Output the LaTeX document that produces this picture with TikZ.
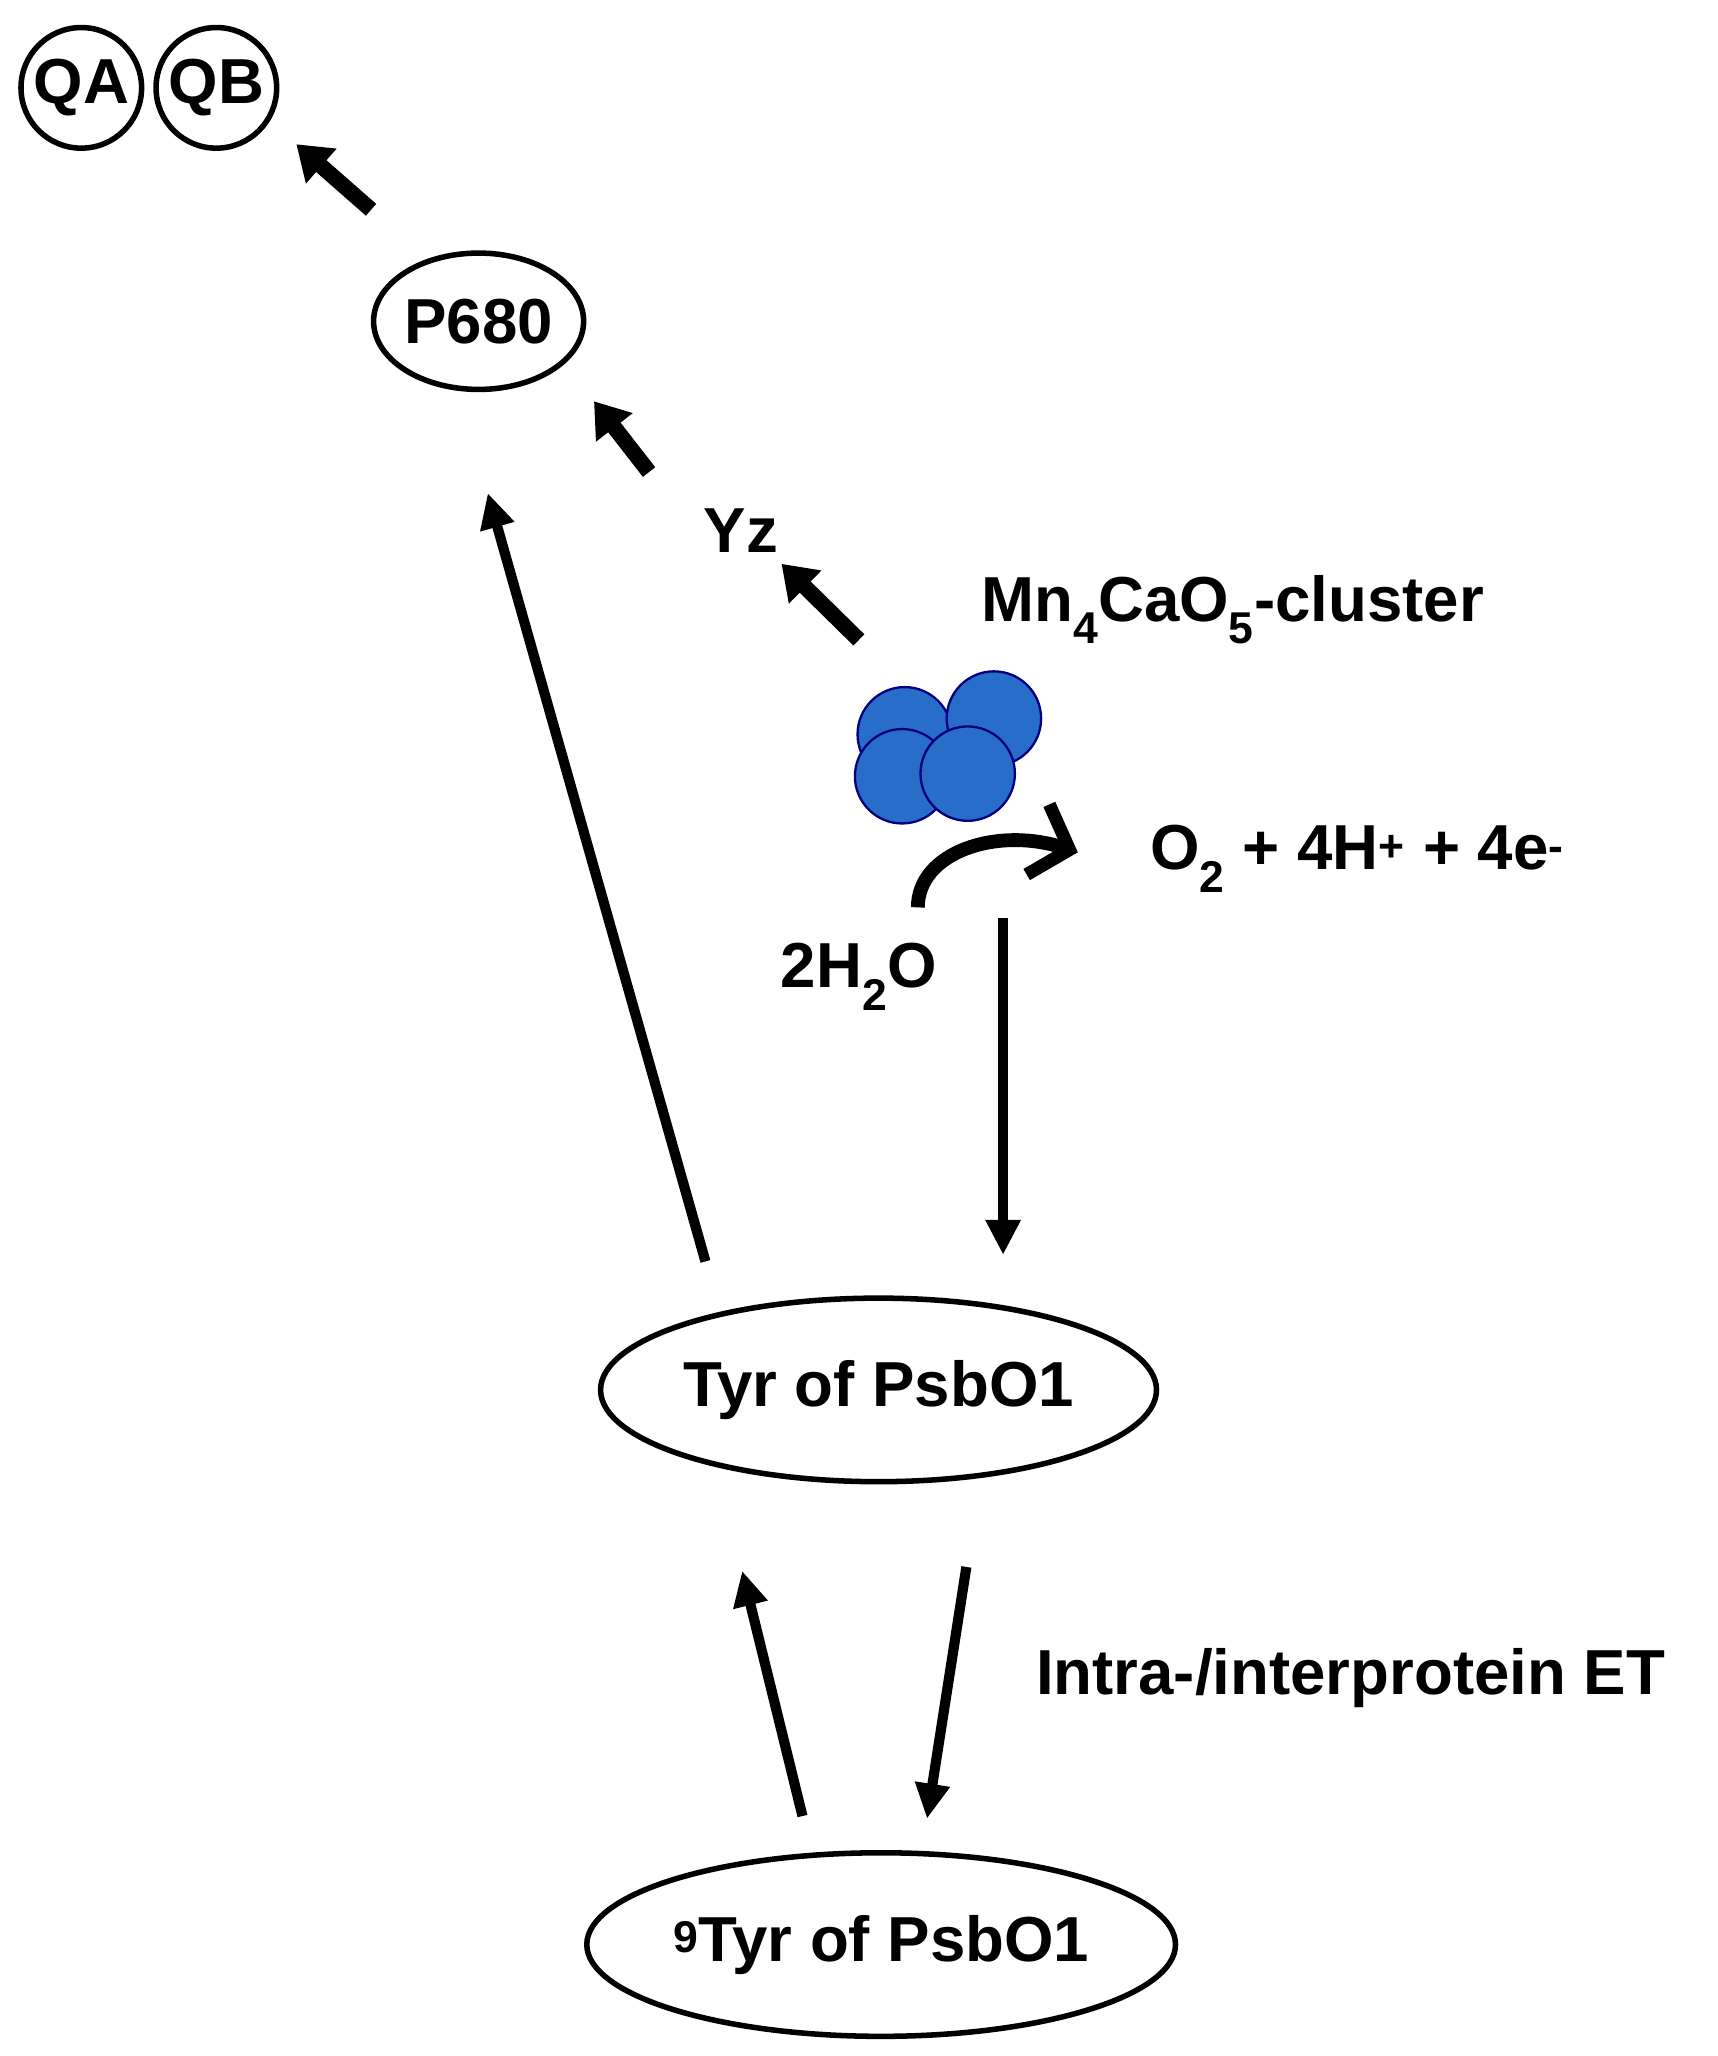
\documentclass[tikz,border=0pt]{standalone}
\usepackage{fontspec}
\setmainfont{Liberation Sans}
\usetikzlibrary{arrows.meta,shapes.geometric}
\begin{document}
\begin{tikzpicture}[x=0.05cm,y=-0.05cm,
  lbl/.style={font=\fontsize{69}{78}\selectfont\bfseries},
  ell/.style={draw,line width=6pt,ellipse,inner sep=0pt},
  arr/.style={line width=11pt,-{Triangle[length=38pt,width=36pt]}},
  fat/.style={line width=17pt,-{Triangle[length=36pt,width=48pt]}},
  blob/.style={draw=blue!50!black,line width=2.5pt,fill={rgb,255:red,40;green,110;blue,200},circle,minimum size=3.6cm}]
\useasboundingbox (0,0) rectangle (1310,1568);
\node[ell,circle,minimum size=4.6cm,lbl] (qa) at (62,67) {QA};
\node[ell,circle,minimum size=4.6cm,lbl] (qb) at (165,67) {QB};
\node[ell,minimum width=7cm,minimum height=5.2cm,lbl] (p680) at (365,245) {P680};
\node[lbl] (yz) at (565,405) {Yz};
\node[lbl] (mn) at (940,465) {Mn\textsubscript{4}CaO\textsubscript{5}-cluster};
\node[blob] (b1) at (690,560) {};
\node[blob] (b2) at (758,548) {};
\node[blob] (b3) at (688,592) {};
\node[blob] (b4) at (738,590) {};
\node[lbl] (o2) at (1035,655) {O\textsubscript{2} + 4H\textsuperscript{+} + 4e\textsuperscript{-}};
\node[lbl] (h2o) at (655,745) {2H\textsubscript{2}O};
\node[ell,minimum width=21.2cm,minimum height=7cm,lbl] (tyr) at (670,1060) {Tyr of PsbO1};
\node[ell,minimum width=21.2cm,minimum height=7cm,lbl] (tyr9) at (672,1483) {\textsuperscript{9}Tyr of PsbO1};
\node[lbl] (et) at (1030,1280) {Intra-/interprotein ET};
\coordinate (a1s) at (283,160); \coordinate (a1e) at (226,110);
\coordinate (a2s) at (495,360); \coordinate (a2e) at (453,306);
\coordinate (a3s) at (655,488); \coordinate (a3e) at (596,430);
\coordinate (cs) at (700,692); \coordinate (ce) at (822,650);
\coordinate (ds) at (765,700); \coordinate (de) at (765,957);
\coordinate (ls) at (538,962); \coordinate (le) at (372,376);
\coordinate (us) at (612,1385); \coordinate (ue) at (566,1198);
\coordinate (ws) at (737,1195); \coordinate (we) at (707,1387);
\draw[fat] (a1s) -- (a1e);
\draw[fat] (a2s) -- (a2e);
\draw[fat] (a3s) -- (a3e);
\draw[line width=15pt,-{Straight Barb[length=36pt,width=80pt,line width=14pt]}] (cs) .. controls (700,650) and (760,630) .. (ce);
\draw[arr] (ds) -- (de);
\draw[arr] (ls) -- (le);
\draw[arr] (us) -- (ue);
\draw[arr] (ws) -- (we);
\end{tikzpicture}
\end{document}
